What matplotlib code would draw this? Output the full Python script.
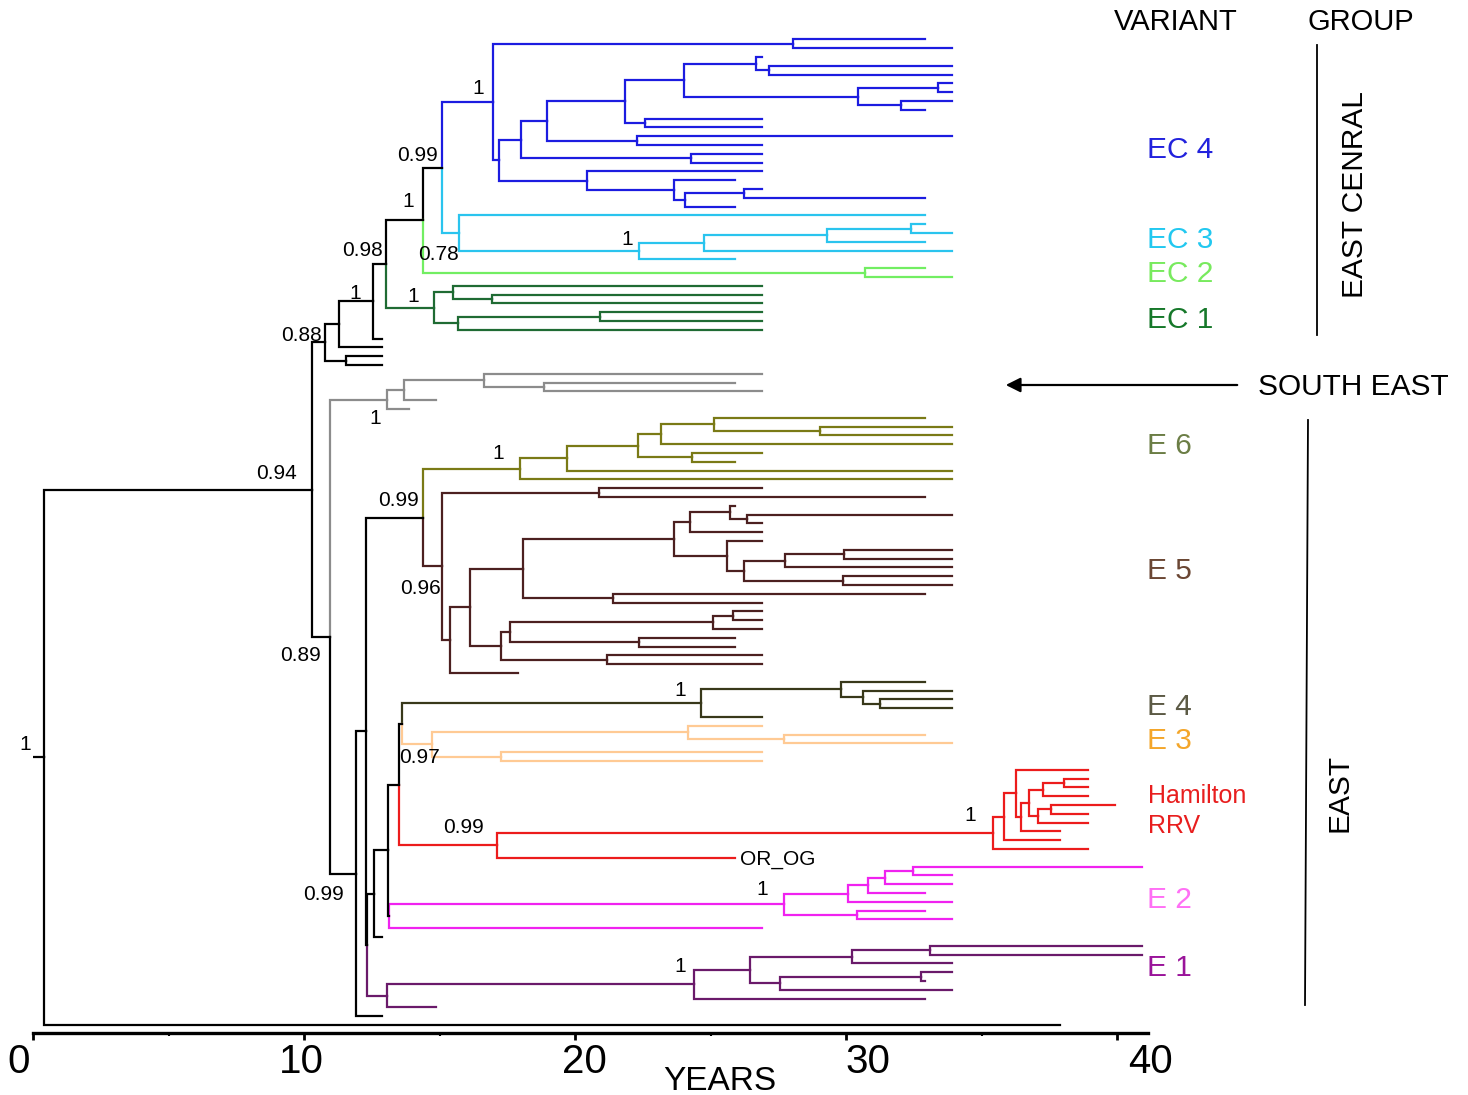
import matplotlib
matplotlib.use("Agg")
import matplotlib.pyplot as plt
from matplotlib.collections import LineCollection
from matplotlib.lines import Line2D
from itertools import count

plt.rcParams['font.family'] = ['Liberation Sans', 'DejaVu Sans']

# ---------------- data (node times in years) ----------------
# internal node: [node_time, child, child, ...]; number = tip time;
# (tip_time, "name") = labelled tip; string = reference to a coloured clade
EC4 = [16.96,
       [28.02, 32.9, 33.9],
       [17.17,
        [18.00,
         [18.96,
          [21.85,
           [24.00,
            [26.67, 26.9, [27.13, 33.9, 33.9]],
            [30.43, [33.37, 33.9, 33.9], [32.02, 33.9, 32.9]]],
           [22.56, 26.9, 26.9]],
          [22.28, 33.9, 26.9]],
         [24.27, 26.9, 26.9]],
        [20.43, 26.9,
         [23.63, 25.9, [24.04, [26.21, 26.9, 32.9], 25.9]]]]]
EC3 = [15.69, 32.9, [22.34, [24.73, [29.29, [32.39, 32.9, 33.9], 32.9], 33.9], 25.9]]
EC2 = [30.70, 32.9, 33.9]
EC1 = [14.80, [15.49, 26.9, [16.93, 26.9, 26.9]], [15.67, [20.90, 26.9, 26.9], 26.9]]
SE = [13.05, [13.69, [16.62, 26.9, [18.83, 25.9, 26.9]], 14.87], 13.85]
E6 = [17.97,
      [19.69,
       [22.31,
        [23.16, [25.10, 32.9, [29.04, 33.9, 33.9]], 33.9],
        [24.31, 26.9, 25.9]],
       33.9],
      33.9]
E5 = [15.08,
      [20.86, 26.9, 32.9],
      [15.39,
       [16.10,
        [18.06,
         [23.63,
          [24.24, [25.72, 25.9, [26.34, 33.9, 26.9]], 26.9],
          [25.60, 26.9, [26.24, [27.75, [29.90, 33.9, 33.9], 33.9], [29.88, 33.9, 33.9]]]],
         [21.38, 32.9, 26.9]],
        [17.26,
         [17.58, [25.08, [25.82, 26.9, 26.9], 26.9], [22.34, 25.9, 25.9]],
         [21.17, 26.9, 26.9]]],
       17.89]]
E4 = [24.64, [29.82, 32.9, [30.62, 33.9, [31.25, 33.9, 33.9]]], 26.9]
E3 = [14.71, [24.16, 26.9, [27.69, 32.9, 33.9]], [17.27, 26.9, 26.9]]
HAM = [17.11,
       [35.41,
        [35.83,
         [36.27, 38.9,
          [36.46,
           [36.73,
            [37.24, [38.04, 38.9, 38.9], 38.9],
            [37.07, [37.56, 39.9, 38.9], 38.9]],
           37.9]],
         37.9],
        38.9],
       (25.88, "OR_OG")]
E2 = [27.71, [30.05, [30.79, [31.41, [32.46, 40.9, 33.9], 33.9], 32.9], 33.9], [30.39, 32.9, 33.9]]
E2_TIP = 26.9
E1 = [13.05, [24.39, [26.43, [30.21, [33.10, 40.9, 40.9], 33.9],
                      [27.54, [32.77, 33.9, 32.9], 33.9]], 32.9], 14.87]

TREE = [0.38,
        [10.28,
         [10.77,
          [11.27,
           [12.52,
            [13.03,
             [14.39, [15.08, "EC4", "EC3"], "EC2"],
             "EC1"],
            12.87],
           12.87],
          [11.54, 12.87, 12.87]],
         [10.96,
          "SE",
          [11.92,
           [12.27,
            [14.38, "E6", "E5"],
            [12.31,
             [12.56,
              [13.07,
               [13.51, [13.61, "E4", "E3"], "HAM"],
               [13.12, "E2", "E2_TIP"]],
              12.87],
             "E1"]],
           12.87]]],
        37.9]

CLADES = {"EC4": EC4, "EC3": EC3, "EC2": EC2, "EC1": EC1, "SE": SE, "E6": E6,
          "E5": E5, "E4": E4, "E3": E3, "HAM": HAM, "E2": E2, "E2_TIP": E2_TIP, "E1": E1}

SUPPORT_TEXT = ["1", "0.99", "1", "0.98", "0.78", "1", "1", "1", "0.88", "1", "1",
                "0.94", "0.99", "0.96", "0.89", "1", "0.97", "0.99", "1", "0.99",
                "1", "1", "1"]

VARIANT_TEXT = ["EC 4", "EC 3", "EC 2", "EC 1", "E 6", "E 5", "E 4", "E 3",
                "Hamilton", "RRV", "E 2", "E 1"]
GROUP_TEXT = ["EAST CENRAL", "EAST"]
X_TICKS = [0, 10, 20, 30, 40]

# ---------------- style / layout ----------------
CLADE_COLORS = {"EC4": "#1c1ce0", "EC3": "#2ac4ee", "EC2": "#72ee62", "EC1": "#1f6b33",
                "SE": "#8c8c8c", "E6": "#7a7a16", "E5": "#4c2020", "E4": "#38381a",
                "E3": "#ffca94", "HAM": "#ec1c1c", "E2": "#f022f0", "E2_TIP": "#f022f0",
                "E1": "#6a1a6a"}
VARIANT_COLORS = ["#2222dd", "#22c8f0", "#78ea5e", "#16782a", "#6b7d45", "#6b4734",
                  "#5c5a45", "#f4a62a", "#e81e1e", "#e81e1e", "#ff70f5", "#9a149a"]
VARIANT_PX = [(1147, 150), (1147, 240), (1147, 274), (1147, 320), (1147, 446),
              (1147, 571), (1147, 707), (1147, 741), (1148, 796), (1148, 826),
              (1147, 900), (1147, 968)]
SUPPORT_POS = [(16.43, 5.57), (14.16, 13.22), (13.85, 18.45), (12.13, 24.0),
               (14.94, 24.45), (21.91, 22.8), (11.88, 28.86), (14.03, 29.24),
               (9.89, 33.6), (12.62, 43.07), (17.17, 47.04), (8.99, 49.28),
               (13.47, 52.42), (14.28, 62.45), (9.85, 70.07), (23.87, 73.94),
               (14.24, 81.66), (15.87, 89.61), (34.58, 88.14), (10.70, 97.2),
               (26.89, 96.66), (23.87, 105.37), (-0.30, 80.18)]

W, H = 1468, 1095
fig = plt.figure(figsize=(W / 100, H / 100), dpi=100)


def fx(x):
    return x / W


def fy(y):
    return 1 - y / H


# ---------------- tree layout ----------------
tip_counter = count()
paths, colors, tip_labels = [], [], []


def place(node, color):
    if isinstance(node, str):
        return place(CLADES[node], CLADE_COLORS[node])
    if isinstance(node, (int, float)):
        return node, next(tip_counter), color
    if isinstance(node, tuple):
        x, name = node
        y = next(tip_counter)
        tip_labels.append((x, y, name))
        return x, y, color
    x = node[0]
    kids = [place(ch, color) for ch in node[1:]]
    y = (kids[0][1] + kids[-1][1]) / 2
    for cx, cy, cc in kids:
        paths.append([(x, y), (x, cy), (cx, cy)])
        colors.append(cc)
    return x, y, color


rx, ry, _ = place(TREE, "black")
paths.append([(0, ry), (rx, ry)])
colors.append("black")
n_tips = next(tip_counter)

ax_left, ax_right, ax_top, ax_bottom = 33.3, 1148, 30, 1033
ax = fig.add_axes([fx(ax_left), fy(ax_bottom), fx(ax_right) - fx(ax_left),
                   fy(ax_top) - fy(ax_bottom)])
ax.set_xlim(0, 41.13)
ax.set_ylim(n_tips - 1 + 0.91, -1.06)

lc = LineCollection(paths, colors=colors, linewidths=1.6, capstyle="projecting",
                    joinstyle="miter")
ax.add_collection(lc)

for x, y, name in tip_labels:
    ax.annotate(name, (x, y), xytext=(4, -1), textcoords="offset points",
                ha="left", va="center", fontsize=15, color="black")

for t, (x, y) in zip(SUPPORT_TEXT, SUPPORT_POS):
    ax.text(x, y, t, ha="center", va="center", fontsize=15, color="black")

# axis
for s in ["left", "right", "top"]:
    ax.spines[s].set_visible(False)
ax.spines["bottom"].set_linewidth(2.4)
ax.set_yticks([])
ax.set_xticks(X_TICKS)
ax.set_xticks([5, 15, 25, 35], minor=True)
ax.tick_params(axis="x", which="major", direction="out", length=5, width=2, labelbottom=False)
ax.tick_params(axis="x", which="minor", direction="out", length=2.5, width=1.5)
for v in X_TICKS:
    ax.annotate(str(v), xy=(v * 1.0443 - 0.55, 0), xycoords=("data", "axes fraction"),
                xytext=(0, -21), textcoords="offset points", ha="center", va="center",
                fontsize=29, annotation_clip=False)
fig.text(fx(720), fy(1081), "YEARS", ha="center", va="center", fontsize=24)

# right-hand annotations
fig.text(fx(1176), fy(22), "VARIANT", ha="center", va="center", fontsize=21)
fig.text(fx(1361), fy(22), "GROUP", ha="center", va="center", fontsize=21)
for t, c, (x, y) in zip(VARIANT_TEXT, VARIANT_COLORS, VARIANT_PX):
    fs = 18 if t in ("Hamilton", "RRV") else 21.5
    fig.text(fx(x), fy(y), t, ha="left", va="center", fontsize=fs, color=c)
fig.text(fx(1258), fy(387), "SOUTH EAST", ha="left", va="center", fontsize=21.5)
fig.text(fx(1355), fy(195), GROUP_TEXT[0], rotation=90, ha="center", va="center", fontsize=21.5)
fig.text(fx(1340), fy(793), GROUP_TEXT[1], rotation=90, ha="center", va="center", fontsize=21.5)

fig.add_artist(Line2D([fx(1317), fx(1317)], [fy(45), fy(335)], color="black", lw=1.3,
                      transform=fig.transFigure))
fig.add_artist(Line2D([fx(1308), fx(1305)], [fy(420), fy(1005)], color="black", lw=1.3,
                      transform=fig.transFigure))
fig.add_artist(matplotlib.patches.FancyArrowPatch(
    (fx(1240), fy(385)), (fx(1003), fy(385)), transform=fig.transFigure,
    arrowstyle="-|>", mutation_scale=22, lw=1.6, color="black"))

fig.savefig("out.png", dpi=100)
